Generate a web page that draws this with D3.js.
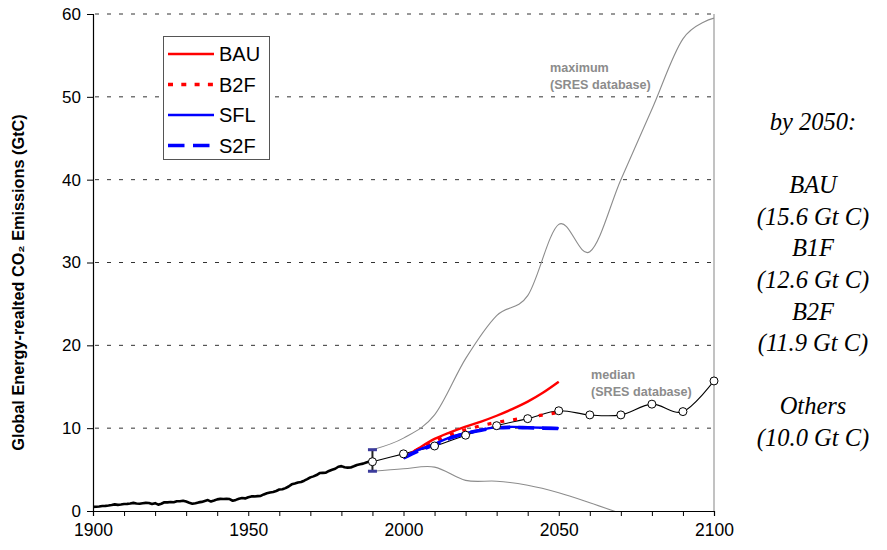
<!DOCTYPE html>
<html>
<head>
<meta charset="utf-8">
<script src="https://cdn.jsdelivr.net/npm/d3@7"></script>
<style>
  html, body { margin: 0; padding: 0; background: #fff; }
  svg { display: block; }
</style>
</head>
<body>
<svg id="chart" width="887" height="550"></svg>
<script>
// ---- Data -------------------------------------------------------------
// Historical global energy-related CO2 emissions (GtC), 1900-1990
const histYears = d3.range(1900, 1991);
const histValues = [
  0.50, 0.52, 0.55, 0.60, 0.62, 0.66, 0.72, 0.80, 0.74, 0.78,
  0.84, 0.86, 0.90, 0.98, 0.90, 0.88, 0.94, 0.98, 0.96, 0.84,
  0.95, 0.76, 0.88, 1.06, 1.04, 1.08, 1.06, 1.18, 1.18, 1.24,
  1.14, 1.00, 0.88, 0.94, 1.04, 1.10, 1.22, 1.32, 1.14, 1.26,
  1.40, 1.46, 1.44, 1.46, 1.44, 1.24, 1.34, 1.48, 1.56, 1.52,
  1.66, 1.76, 1.76, 1.80, 1.82, 2.00, 2.14, 2.24, 2.30, 2.42,
  2.60, 2.62, 2.76, 2.96, 3.22, 3.32, 3.44, 3.50, 3.66, 3.84,
  4.06, 4.18, 4.34, 4.58, 4.60, 4.62, 4.84, 4.98, 5.10, 5.34,
  5.42, 5.28, 5.24, 5.26, 5.40, 5.56, 5.64, 5.72, 5.86, 5.98,
  5.95
];

// SRES database envelope and median
const sresYears  = [1990, 2000, 2010, 2020, 2030, 2040, 2050, 2060, 2070, 2080, 2090, 2100];
const maxValues  = [7.4, 8.8, 11.6, 18.4, 23.6, 26.0, 34.6, 31.3, 40.0, 48.5, 57.0, 59.5];
const medianValues = [5.95, 6.9, 7.85, 9.15, 10.3, 11.15, 12.1, 11.6, 11.6, 12.9, 12.0, 15.7];
const minYears   = [1990, 2000, 2010, 2020, 2030, 2040, 2050, 2060, 2070];
const minValues  = [4.8, 5.1, 5.3, 3.7, 3.6, 3.1, 2.2, 1.0, -0.3];

// 1990 uncertainty range
const errYear = 1990, errLow = 4.8, errHigh = 7.4;

// Scenario projections, 2000-2050
const scenYears = [2000, 2005, 2010, 2015, 2020, 2025, 2030, 2035, 2040, 2045, 2050];
const bauValues = [6.4, 7.6, 8.7, 9.5, 10.2, 10.8, 11.5, 12.3, 13.2, 14.3, 15.6];
const b2fValues = [6.4, 7.5, 8.4, 9.2, 9.8, 10.3, 10.7, 11.0, 11.3, 11.6, 11.9];
const sflValues = [6.4, 7.4, 8.1, 8.9, 9.4, 9.8, 10.1, 10.15, 10.1, 10.05, 10.0];
const s2fValues = [6.4, 7.3, 8.0, 8.8, 9.35, 9.75, 10.05, 10.1, 10.05, 10.0, 9.95];

const legendLabels = ["BAU", "B2F", "SFL", "S2F"];
const xTickLabels = [1900, 1950, 2000, 2050, 2100];
const yTickLabels = [0, 10, 20, 30, 40, 50, 60];
const sideText = ["by 2050:", "", "BAU", "(15.6 Gt C)", "B1F", "(12.6 Gt C)", "B2F", "(11.9 Gt C)", "", "Others", "(10.0 Gt C)"];

// ---- Layout -----------------------------------------------------------
const svg = d3.select("#chart");
const x = d3.scaleLinear().domain([1900, 2100]).range([93, 714]);
const y = d3.scaleLinear().domain([0, 60]).range([511, 14]);

const smooth = d3.curveCardinal.tension(0);
const pair = (xs, ys) => xs.map((v, i) => [v, ys[i]]);
const lineGen = (curve) => d3.line().x(d => x(d[0])).y(d => y(d[1])).curve(curve);

svg.append("defs").append("clipPath").attr("id", "plotClip")
  .append("rect")
  .attr("x", x(1900)).attr("y", y(60))
  .attr("width", x(2100) - x(1900)).attr("height", y(0) - y(60));

// Horizontal dashed gridlines
svg.append("g").selectAll("line")
  .data(yTickLabels.filter(v => v > 0))
  .join("line")
  .attr("x1", x(1900) + 2).attr("x2", x(2100))
  .attr("y1", d => y(d)).attr("y2", d => y(d))
  .attr("stroke", "#333").attr("stroke-width", 1)
  .attr("stroke-dasharray", "4,8");

// Right edge of the plot area
svg.append("line")
  .attr("x1", x(2100)).attr("x2", x(2100))
  .attr("y1", y(60)).attr("y2", y(0))
  .attr("stroke", "#999").attr("stroke-width", 1.2);

const plot = svg.append("g").attr("clip-path", "url(#plotClip)");

// SRES maximum and minimum envelopes
plot.append("path")
  .datum(pair(sresYears, maxValues))
  .attr("d", lineGen(smooth))
  .attr("fill", "none").attr("stroke", "#8c8c8c").attr("stroke-width", 1.1);
plot.append("path")
  .datum(pair(minYears, minValues))
  .attr("d", lineGen(smooth))
  .attr("fill", "none").attr("stroke", "#8c8c8c").attr("stroke-width", 1.1);

// Historical emissions
plot.append("path")
  .datum(pair(histYears, histValues))
  .attr("d", lineGen(d3.curveLinear))
  .attr("fill", "none").attr("stroke", "#000").attr("stroke-width", 2.6)
  .attr("stroke-linejoin", "round");

// SRES median
plot.append("path")
  .datum(pair(sresYears, medianValues))
  .attr("d", lineGen(smooth))
  .attr("fill", "none").attr("stroke", "#000").attr("stroke-width", 1.1);

// 1990 uncertainty bar
svg.append("line")
  .attr("x1", x(errYear)).attr("x2", x(errYear))
  .attr("y1", y(errLow)).attr("y2", y(errHigh))
  .attr("stroke", "#222").attr("stroke-width", 2);
svg.selectAll(".cap").data([errLow, errHigh]).join("rect")
  .attr("class", "cap")
  .attr("x", x(errYear) - 4.5).attr("y", d => y(d) - 1.5)
  .attr("width", 9).attr("height", 3)
  .attr("fill", "#3b3b9c");

// Scenario lines
const scenarios = [
  { name: "BAU", values: bauValues, color: "#ff0000", width: 2.4, dash: null },
  { name: "B2F", values: b2fValues, color: "#ff0000", width: 3.2, dash: "4,9" },
  { name: "SFL", values: sflValues, color: "#0000ff", width: 2.4, dash: null },
  { name: "S2F", values: s2fValues, color: "#0000ff", width: 3.6, dash: "16,8" }
];
scenarios.forEach(s => {
  plot.append("path")
    .datum(pair(scenYears, s.values))
    .attr("d", lineGen(d3.curveMonotoneX))
    .attr("fill", "none").attr("stroke", s.color)
    .attr("stroke-width", s.width)
    .attr("stroke-dasharray", s.dash);
});

// Median markers
svg.append("g").selectAll("circle")
  .data(pair(sresYears, medianValues))
  .join("circle")
  .attr("cx", d => x(d[0])).attr("cy", d => y(d[1]))
  .attr("r", 4)
  .attr("fill", "#fff").attr("stroke", "#000").attr("stroke-width", 1);

// ---- Axes -------------------------------------------------------------
const font = "Liberation Sans, Arial, sans-serif";

const yAxis = svg.append("g")
  .attr("transform", `translate(${x(1900)},0)`)
  .call(d3.axisLeft(y).tickValues(yTickLabels).tickSize(6).tickPadding(6).tickFormat(d3.format("d")));
yAxis.select(".domain").attr("stroke", "#000").attr("stroke-width", 1.2);
yAxis.selectAll(".tick line").attr("stroke", "#000");
yAxis.selectAll("text").attr("font-family", font).attr("font-size", 17).attr("fill", "#000");

const xAxis = svg.append("g")
  .attr("transform", `translate(0,${y(0)})`)
  .call(d3.axisBottom(x).tickValues(d3.range(1900, 2101, 10)).tickSize(5).tickPadding(8)
    .tickFormat(d => xTickLabels.includes(d) ? d : ""));
xAxis.select(".domain").attr("stroke", "#000").attr("stroke-width", 1.2);
xAxis.selectAll(".tick line").attr("stroke", "#000");
xAxis.selectAll("text").attr("font-family", font).attr("font-size", 17.5).attr("fill", "#000");

// Y-axis title
svg.append("text")
  .attr("transform", `translate(24,${y(30) + 20}) rotate(-90)`)
  .attr("text-anchor", "middle")
  .attr("font-family", font).attr("font-size", 16.3).attr("font-weight", "bold")
  .text("Global Energy-realted CO\u2082 Emissions (GtC)");

// ---- Legend -----------------------------------------------------------
const legend = svg.append("g");
legend.append("rect")
  .attr("x", 163.5).attr("y", 36.5).attr("width", 106).attr("height", 123)
  .attr("fill", "#fff").attr("stroke", "#555").attr("stroke-width", 1);
scenarios.forEach((s, i) => {
  const ly = 54 + i * 30.5;
  legend.append("line")
    .attr("x1", 168).attr("x2", 214).attr("y1", ly).attr("y2", ly)
    .attr("stroke", s.color)
    .attr("stroke-width", s.dash ? 3.5 : 2.4)
    .attr("stroke-dasharray", s.dash ? (s.name === "B2F" ? "5,8.3" : "16.5,8.5") : null);
  legend.append("text")
    .attr("x", 219).attr("y", ly + 7)
    .attr("font-family", font).attr("font-size", 20)
    .text(legendLabels[i]);
});

// ---- Annotations ------------------------------------------------------
const note = (lines, x0, y0) => lines.forEach((t, i) =>
  svg.append("text")
    .attr("x", x0).attr("y", y0 + i * 17)
    .attr("font-family", font).attr("font-size", 12.6).attr("font-weight", "bold")
    .attr("fill", "#8c8c8c").text(t));
note(["maximum", "(SRES database)"], 550, 72);
note(["median", "(SRES database)"], 591, 379);

// Side summary
svg.append("g").selectAll("text")
  .data(sideText)
  .join("text")
  .attr("x", 813).attr("y", (d, i) => 130 + i * 31.6)
  .attr("text-anchor", "middle")
  .attr("font-family", "Liberation Serif, Times New Roman, serif")
  .attr("font-style", "italic").attr("font-size", 24.5)
  .text(d => d);
</script>
</body>
</html>
